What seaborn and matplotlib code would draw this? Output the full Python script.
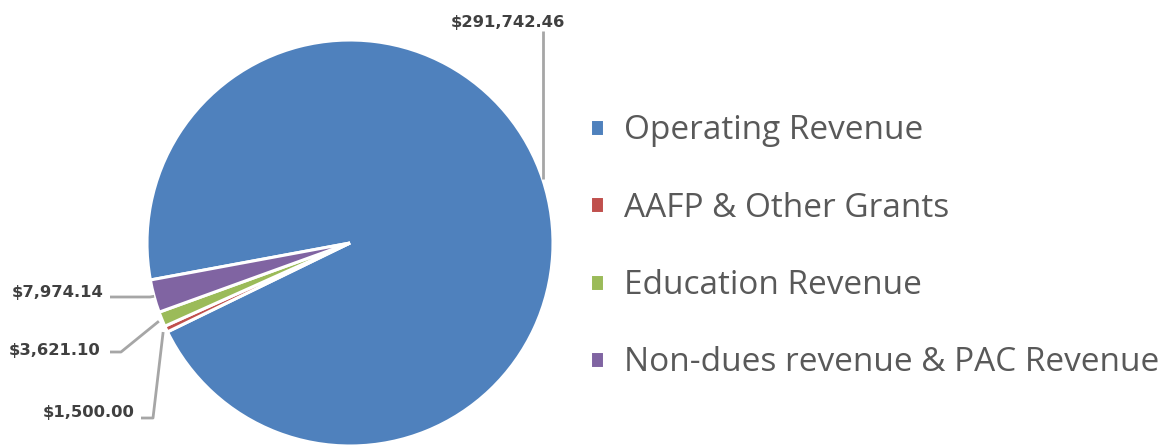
import matplotlib
matplotlib.use("Agg")
import matplotlib.pyplot as plt
import seaborn as sns
import numpy as np

categories = ["Operating Revenue", "AAFP & Other Grants", "Education Revenue",
              "Non-dues revenue & PAC Revenue"]
values = [291742.46, 1500.00, 3621.10, 7974.14]
value_labels = ["$291,742.46", "$1,500.00", "$3,621.10", "$7,974.14"]
colors = ["#4F81BD", "#C0504D", "#9BBB59", "#8064A2"]

sns.set_theme(style="white")
palette = sns.color_palette(colors)
plt.rcParams['font.family'] = ['Open Sans', 'DejaVu Sans']

W, H = 1176, 445
fig = plt.figure(figsize=(W / 100, H / 100), dpi=100)
ax = fig.add_axes([0, 0, 1, 1])
ax.set_xlim(0, W)
ax.set_ylim(0, H)
ax.set_aspect('equal')
ax.axis('off')

def py(y):
    return H - y

cx, cy, R = 350, py(243), 203
wedges, _ = ax.pie(values, colors=palette, startangle=190.5, counterclock=False,
                   center=(cx, cy), radius=R,
                   wedgeprops=dict(edgecolor="white", linewidth=2.2), frame=True)
ax.set_xlim(0, W)
ax.set_ylim(0, H)
ax.axis('off')

def anchor(w, frac=1.0):
    a = np.deg2rad((w.theta1 + w.theta2) / 2)
    return cx + R * frac * np.cos(a), cy + R * frac * np.sin(a)

lab_kw = dict(fontsize=11.8, fontweight='bold', color='#404040',
              family=['DejaVu Sans'])
line_kw = dict(color='#A6A6A6', lw=2, solid_capstyle='butt')

# Operating Revenue label (top)
ax0 = anchor(wedges[0])
ax.plot([ax0[0], ax0[0]], [ax0[1], py(31)], **line_kw)
ax.text(508, py(22), value_labels[0], ha='center', va='center', **lab_kw)

# Non-dues (purple)
a3 = anchor(wedges[3])
ax.plot([110, a3[0] - 4, a3[0]], [py(297), py(297), a3[1]], **line_kw)
ax.text(104, py(293), value_labels[3], ha='right', va='center', **lab_kw)

# Education (green)
a2 = anchor(wedges[2])
ax.plot([110, 121, a2[0] - 3], [py(352), py(352), a2[1] - 2], **line_kw)
ax.text(101, py(350), value_labels[2], ha='right', va='center', **lab_kw)

# AAFP (red)
a1 = anchor(wedges[1])
ax.plot([141, 153, a1[0] - 3], [py(418), py(418), a1[1] - 3], **line_kw)
ax.text(135, py(413), value_labels[1], ha='right', va='center', **lab_kw)

leg = ax.legend(wedges, categories, loc='upper left',
                bbox_to_anchor=(567 / W, 1 - 91 / H), frameon=False,
                prop=dict(family=['Open Sans', 'DejaVu Sans'], size=24,
                          weight='medium'),
                handlelength=0.4, handleheight=0.4,
                handletextpad=0.6, labelspacing=1.33, borderpad=0.2,
                labelcolor='#595959')

fig.savefig("out.png", dpi=100)
